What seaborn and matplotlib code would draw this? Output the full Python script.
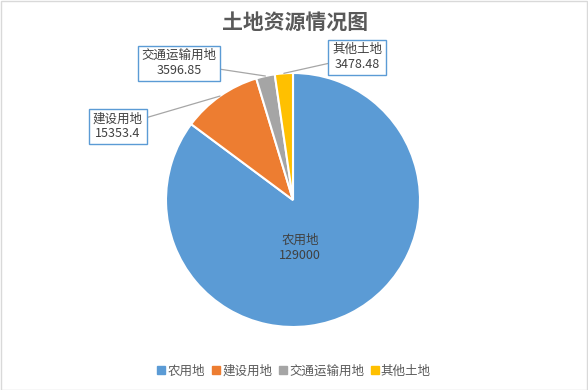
import numpy as np
import matplotlib
matplotlib.use('Agg')
import matplotlib.pyplot as plt
from matplotlib.patches import Rectangle
import seaborn as sns

# data
categories = ['农用地', '建设用地', '交通运输用地', '其他土地']
values = [129000, 15353.4, 3596.85, 3478.48]
value_labels = ['129000', '15353.4', '3596.85', '3478.48']
colors = ['#5B9BD5', '#ED7D31', '#A5A5A5', '#FFC000']

sns.set_theme(style='white')
plt.rcParams['font.family'] = ['Noto Sans CJK SC', 'DejaVu Sans']

W, H = 588, 390
fig = plt.figure(figsize=(W / 100, H / 100), dpi=100)
fig.patches.append(Rectangle((0.5 / W, 0.5 / H), 1 - 1.5 / W, 1 - 1.5 / H, transform=fig.transFigure,
                             fill=False, edgecolor='#D9D9D9', lw=1))

# pie axes: centre (293, 200) px, radius 127 px
R = 127
cx, cy = 293, 200
ax = fig.add_axes([(cx - R) / W, (H - cy - R) / H, 2 * R / W, 2 * R / H])
wedges, _ = ax.pie(values, colors=colors, startangle=90, counterclock=False, radius=1,
                   wedgeprops=dict(edgecolor='white', linewidth=1.5))
ax.set_xlim(-1, 1)
ax.set_ylim(-1, 1)
ax.set_aspect('equal')
ax.axis('off')

# label positions in data units (1 unit = R px)
def px(x, y):
    return ((x - cx) / R, (cy - y) / R)

text_pos = [None, px(118, 126), px(179, 63), px(357, 57)]
txt_color = '#404040'

# inside label of the big slice
ax.text(*px(300, 248), f'{categories[0]}\n{value_labels[0]}', ha='center', va='center',
        fontsize=9, color=txt_color, linespacing=1.15)

for i in range(1, 4):
    w = wedges[i]
    mid = np.deg2rad((w.theta1 + w.theta2) / 2)
    xy = (np.cos(mid), np.sin(mid))
    ax.annotate(f'{categories[i]}\n{value_labels[i]}', xy=xy, xytext=text_pos[i],
                ha='center', va='center', fontsize=9, color=txt_color, linespacing=1.15,
                annotation_clip=False,
                bbox=dict(boxstyle='square,pad=0.3', fc='white', ec='#5B9BD5', lw=1),
                arrowprops=dict(arrowstyle='-', color='#A6A6A6', lw=0.9, shrinkA=0, shrinkB=0))

fig.text(295 / W, 1 - 22 / H, '土地资源情况图', ha='center', va='center', fontsize=15,
         fontweight='bold', color='#595959')

handles = [plt.Line2D([], [], marker='s', linestyle='', markersize=5.5, color=c) for c in colors]
fig.legend(handles, categories, loc='center', bbox_to_anchor=(293 / W, 1 - 371 / H), ncol=4,
           frameon=False, fontsize=9, handletextpad=0.0, columnspacing=0.35, handlelength=1.0,
           labelcolor='#595959')

fig.savefig('out.png', dpi=100)
